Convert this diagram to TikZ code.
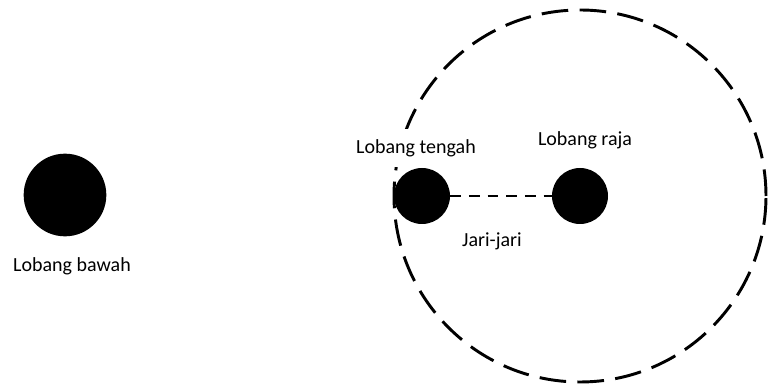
\documentclass[tikz,border=0pt]{standalone}
\usepackage{fontspec}
\setmainfont{Carlito}
\begin{document}
\begin{tikzpicture}[x=0.75pt, y=-0.75pt, font=\fontsize{15}{18}\selectfont,
  hole/.style={circle, fill=black, inner sep=0pt, minimum size=42pt},
  bighole/.style={hole, minimum size=62pt},
  lbl/.style={inner sep=1pt},
  rim/.style={line width=2.2pt, dash pattern=on 20pt off 8.5pt},
  radius line/.style={line width=2.2pt, dash pattern=on 8pt off 6pt},
]
\useasboundingbox (0,0) rectangle (769,384);

% the dashed rim round the king hole
\coordinate (mid) at (580,196);
\draw[rim] (mid) circle[radius=139.5pt];

\node[bighole] (bawah)  at (65,195)  {};
\node[hole]    (tengah) at (422,196) {};
\node[hole]    (raja)   at (mid)     {};

\draw[radius line] (tengah) -- (raja);

\node[lbl] (lbawah) at (72,266) {Lobang bawah};
%% white fill hides the rim behind this label
\node[lbl, fill=white, minimum height=28pt, inner xsep=2pt] (ltengah) at (416,148) {Lobang tengah};
\node[lbl] (lraja) at (585,140) {Lobang raja};
\node[lbl] (ljari) at (492,241) {Jari-jari};
\end{tikzpicture}
\end{document}
